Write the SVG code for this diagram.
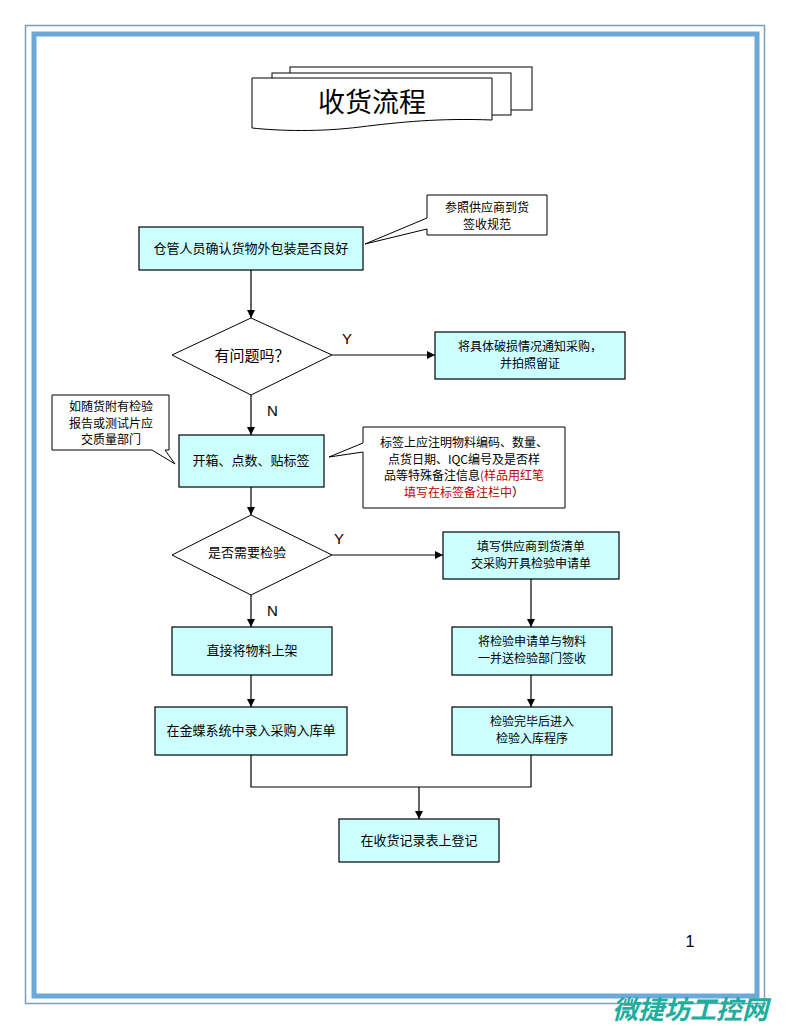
<svg xmlns="http://www.w3.org/2000/svg" width="790" height="1030" viewBox="0 0 790 1030">
<defs>
<marker id="arr" markerWidth="8" markerHeight="8" refX="8" refY="4" orient="auto" markerUnits="userSpaceOnUse">
<path d="M0,0 L8,4 L0,8 Z" fill="#000"/>
</marker>
<style>
.box{fill:#ccffff;stroke:#000;stroke-width:1.2}
.note{fill:#fff;stroke:#000;stroke-width:1}
.dia{fill:#fff;stroke:#000;stroke-width:1}
.t{font-family:"Noto Sans CJK SC","Noto Sans",sans-serif;font-size:13px;fill:#000;text-anchor:middle}
.s{font-size:12px}
.lbl{font-family:"Liberation Sans",Arial,sans-serif;font-size:15px;fill:#000}
.ln{fill:none;stroke:#000;stroke-width:1.2}
.red{fill:#c00000}
</style>
</defs>
<rect width="790" height="1030" fill="#fff"/>
<g id="border">
<rect x="25.5" y="25.5" width="739" height="978" fill="none" stroke="#7c9fb8" stroke-width="1.5"/>
<rect x="34" y="34" width="723" height="962" fill="none" stroke="#6aa9da" stroke-width="5"/>
</g>
<g id="title">
<rect x="290" y="67" width="242" height="43" fill="#fff" stroke="#000" stroke-width="1"/>
<rect x="272" y="73" width="239" height="42" fill="#fff" stroke="#000" stroke-width="1"/>
<path d="M252,78 L492,78 L492,120 C440,118 400,122 360,127 C320,132 280,131 252,128 Z" fill="#fff" stroke="#000" stroke-width="1"/>
<text x="372" y="112" style="font-family:'Noto Sans CJK SC',sans-serif;font-size:27px;text-anchor:middle">收货流程</text>
</g>
<g id="connectors">
<line class="ln" x1="251" y1="270" x2="251" y2="318" marker-end="url(#arr)"/>
<line class="ln" x1="332" y1="355" x2="435" y2="355" marker-end="url(#arr)"/>
<line class="ln" x1="251" y1="395" x2="251" y2="435" marker-end="url(#arr)"/>
<line class="ln" x1="251" y1="487" x2="251" y2="515" marker-end="url(#arr)"/>
<line class="ln" x1="332" y1="555" x2="443" y2="555" marker-end="url(#arr)"/>
<line class="ln" x1="251" y1="595" x2="251" y2="627" marker-end="url(#arr)"/>
<line class="ln" x1="531" y1="579" x2="531" y2="627" marker-end="url(#arr)"/>
<line class="ln" x1="251" y1="675" x2="251" y2="707" marker-end="url(#arr)"/>
<line class="ln" x1="531" y1="675" x2="531" y2="707" marker-end="url(#arr)"/>
<polyline class="ln" points="251,755 251,787 531,787 531,755"/>
<line class="ln" x1="419" y1="787" x2="419" y2="819" marker-end="url(#arr)"/>
<text class="lbl" x="342" y="344">Y</text>
<text class="lbl" x="267" y="416">N</text>
<text class="lbl" x="334" y="544">Y</text>
<text class="lbl" x="267" y="616">N</text>
</g>
<g id="n1">
<rect class="box" x="139" y="227" width="224" height="43"/>
<text class="t" x="251" y="253">仓管人员确认货物外包装是否良好</text>
</g>
<g id="note1">
<path class="note" d="M427,195 L547,195 L547,235 L427,235 L427,229 L365,244 L427,218 Z"/>
<text class="t s" x="487" y="212">参照供应商到货</text>
<text class="t s" x="487" y="229">签收规范</text>
</g>
<g id="d1">
<polygon class="dia" points="251,318 332,355 251,395 172,355"/>
<text x="252" y="361" style="font-family:'Noto Sans CJK SC',sans-serif;font-size:15px;text-anchor:middle">有问题吗？</text>
</g>
<g id="n2">
<rect class="box" x="435" y="332" width="190" height="47"/>
<text class="t s" x="530" y="351">将具体破损情况通知采购，</text>
<text class="t s" x="530" y="368">并拍照留证</text>
</g>
<g id="note2">
<path class="note" d="M52,395 L169,395 L169,450 L165,450 L175,464 L152,450 L52,450 Z"/>
<text class="t s" x="111" y="411">如随货附有检验</text>
<text class="t s" x="111" y="427.5">报告或测试片应</text>
<text class="t s" x="111" y="444">交质量部门</text>
</g>
<g id="n3">
<rect class="box" x="179" y="435" width="145" height="52"/>
<text class="t" x="251" y="465">开箱、点数、贴标签</text>
</g>
<g id="note3">
<path class="note" d="M363,427 L565,427 L565,508 L363,508 L363,452 L329,457 L363,443 Z"/>
<text class="t s" x="464" y="447">标签上应注明物料编码、数量、</text>
<text class="t s" x="464" y="463.5">点货日期、IQC编号及是否样</text>
<text class="t s" x="464" y="480">品等特殊备注信息<tspan class="red">(样品用红笔</tspan></text>
<text class="t s" x="464" y="496.5"><tspan class="red">填写在标签备注栏中</tspan>）</text>
</g>
<g id="d2">
<polygon class="dia" points="251,515 332,555 251,595 172,555"/>
<text class="t" x="247" y="557">是否需要检验</text>
</g>
<g id="n4">
<rect class="box" x="443" y="532" width="176" height="47"/>
<text class="t s" x="531" y="551">填写供应商到货清单</text>
<text class="t s" x="531" y="568">交采购开具检验申请单</text>
</g>
<g id="n5">
<rect class="box" x="172" y="627" width="160" height="48"/>
<text class="t" x="252" y="655">直接将物料上架</text>
</g>
<g id="n6">
<rect class="box" x="452" y="627" width="160" height="48"/>
<text class="t s" x="532" y="646">将检验申请单与物料</text>
<text class="t s" x="532" y="663">一并送检验部门签收</text>
</g>
<g id="n7">
<rect class="box" x="155" y="707" width="192" height="48"/>
<text class="t" x="251" y="735">在金蝶系统中录入采购入库单</text>
</g>
<g id="n8">
<rect class="box" x="452" y="707" width="160" height="48"/>
<text class="t s" x="532" y="726">检验完毕后进入</text>
<text class="t s" x="532" y="743">检验入库程序</text>
</g>
<g id="n9">
<rect class="box" x="339" y="819" width="160" height="43"/>
<text class="t" x="419" y="845">在收货记录表上登记</text>
</g>
<text x="690" y="947" style="font-family:'Liberation Sans',Arial,sans-serif;font-size:16px;text-anchor:middle">1</text>
<text x="612" y="1019" style="font-family:'Noto Sans CJK SC',sans-serif;font-size:26px;font-weight:bold;font-style:italic;fill:#1fae9e">微捷坊工控网</text>
</svg>
